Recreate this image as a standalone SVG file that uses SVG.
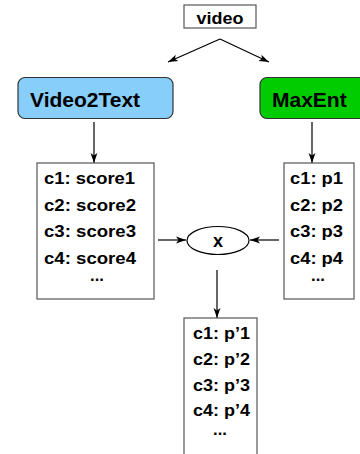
<svg xmlns="http://www.w3.org/2000/svg" width="360" height="454" viewBox="0 0 360 454">
<style>
  .lbl { font-family: "Liberation Sans", Arial, sans-serif; font-weight: bold; fill: #000; }
  .big { font-size: 21px; }
  .item { font-size: 16.5px; }
  .box { fill: #fff; stroke: #555; stroke-width: 1.2; }
  .proc { stroke: #333; stroke-width: 1.2; }
  .edge { stroke: #000; stroke-width: 1.2; fill: none; marker-end: url(#arr); }
</style>
<defs>
  <marker id="arr" markerUnits="userSpaceOnUse" markerWidth="11" markerHeight="8" refX="10" refY="4" orient="auto">
    <path d="M0,0.6 L10,4 L0,7.4 L2.5,4 z" fill="#000"/>
  </marker>
</defs>
<rect width="360" height="454" fill="#fff"/>

<g id="connectors">
  <line class="edge" x1="220" y1="39" x2="168" y2="62"/>
  <line class="edge" x1="220" y1="39" x2="269" y2="62"/>
  <line class="edge" x1="94" y1="122" x2="94" y2="163"/>
  <line class="edge" x1="312" y1="122" x2="312" y2="163"/>
  <line class="edge" x1="158" y1="240" x2="186" y2="240"/>
  <line class="edge" x1="279" y1="240" x2="250" y2="240"/>
  <line class="edge" x1="217" y1="270" x2="217" y2="318"/>
</g>

<g id="video">
  <rect class="box" x="184" y="5" width="72" height="23"/>
  <text class="lbl" x="220" y="23.5" text-anchor="middle" font-size="16.5" textLength="47" lengthAdjust="spacingAndGlyphs">video</text>
</g>

<g id="video2text">
  <rect class="proc" x="18" y="77.5" width="155" height="41" rx="7" fill="#87CEFA"/>
  <text class="lbl big" x="30" y="107">Video2Text</text>
</g>

<g id="maxent">
  <rect class="proc" x="260" y="77.5" width="108" height="41" rx="7" fill="#00CC00"/>
  <text class="lbl big" x="272" y="107">MaxEnt</text>
</g>

<g id="scores">
  <rect class="box" x="37" y="163" width="117" height="136"/>
  <text class="lbl item" x="44" y="184" textLength="91" lengthAdjust="spacingAndGlyphs">c1: score1</text>
  <text class="lbl item" x="44" y="210.5" textLength="92" lengthAdjust="spacingAndGlyphs">c2: score2</text>
  <text class="lbl item" x="44" y="237" textLength="92" lengthAdjust="spacingAndGlyphs">c3: score3</text>
  <text class="lbl item" x="44" y="263.5" textLength="92" lengthAdjust="spacingAndGlyphs">c4: score4</text>
  <text class="lbl item" x="97" y="281" text-anchor="middle">...</text>
</g>

<g id="probs">
  <rect class="box" x="284" y="163" width="70" height="136"/>
  <text class="lbl item" x="290" y="184" textLength="53" lengthAdjust="spacingAndGlyphs">c1: p1</text>
  <text class="lbl item" x="290" y="210.5" textLength="53" lengthAdjust="spacingAndGlyphs">c2: p2</text>
  <text class="lbl item" x="290" y="237" textLength="53" lengthAdjust="spacingAndGlyphs">c3: p3</text>
  <text class="lbl item" x="290" y="263.5" textLength="53" lengthAdjust="spacingAndGlyphs">c4: p4</text>
  <text class="lbl item" x="318" y="281" text-anchor="middle">...</text>
</g>

<g id="multiply">
  <ellipse cx="218" cy="240.5" rx="31" ry="14" fill="#fff" stroke="#000" stroke-width="1.2"/>
  <text class="lbl" x="218" y="247" text-anchor="middle" font-size="18">x</text>
</g>

<g id="result">
  <rect class="box" x="184" y="318" width="73" height="150"/>
  <text class="lbl item" x="193" y="338.5" textLength="57" lengthAdjust="spacingAndGlyphs">c1: p’1</text>
  <text class="lbl item" x="193" y="364.5" textLength="57" lengthAdjust="spacingAndGlyphs">c2: p’2</text>
  <text class="lbl item" x="193" y="390.5" textLength="57" lengthAdjust="spacingAndGlyphs">c3: p’3</text>
  <text class="lbl item" x="193" y="416" textLength="57" lengthAdjust="spacingAndGlyphs">c4: p’4</text>
  <text class="lbl item" x="220" y="435" text-anchor="middle">...</text>
</g>
</svg>
